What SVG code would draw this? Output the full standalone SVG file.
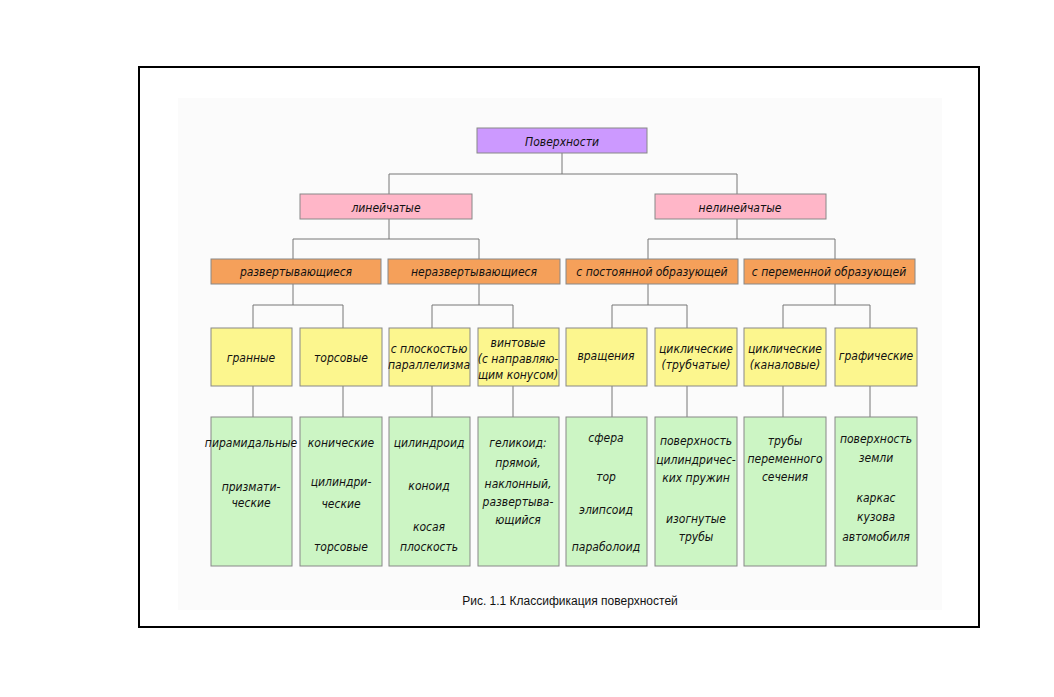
<svg xmlns="http://www.w3.org/2000/svg" width="1054" height="697" viewBox="0 0 1054 697">
<style>
.b{stroke:#888;stroke-width:1}
.p{fill:#cc99ff}.k{fill:#ffb6c8}.o{fill:#f5a05a}.y{fill:#fcf68e}.g{fill:#ccf5c4}
text{font-family:"DejaVu Sans Condensed","Liberation Sans",sans-serif;font-style:italic;font-size:12px;text-anchor:middle;fill:#111}
.c{fill:none;stroke:#777;stroke-width:1}
</style>
<rect width="1054" height="697" fill="#fff"/>
<rect x="178" y="98" width="764" height="512" fill="#fbfbfb"/>
<rect x="139" y="67" width="840" height="560" fill="none" stroke="#000" stroke-width="2"/>
<g id="connectors" class="c">
<path d="M562 153V174M389 174H737M389 174V194M737 174V194"/>
<path d="M389 219V239M293 239H479M293 239V259M479 239V259"/>
<path d="M737 219V239M648 239H835M648 239V259M835 239V259"/>
<path d="M293 284V305M253 305H343M253 305V328M343 305V328"/>
<path d="M479 284V305M432 305H513M432 305V328M513 305V328"/>
<path d="M648 284V305M612 305H687M612 305V328M687 305V328"/>
<path d="M835 284V305M783 305H870M783 305V328M870 305V328"/>
<path d="M253 386V417M343 386V417M432 386V417M513 386V417M612 386V417M687 386V417M783 386V417M870 386V417"/>
</g>
<g id="root"><rect class="b p" x="477" y="128" width="170" height="25"/><text x="562" y="146" font-size="14">Поверхности</text></g>
<g id="lin"><rect class="b k" x="300" y="194" width="172" height="25"/><text x="386" y="212" font-size="14">линейчатые</text></g>
<g id="nelin"><rect class="b k" x="655" y="194" width="171" height="25"/><text x="740" y="212" font-size="14">нелинейчатые</text></g>
<g id="razv"><rect class="b o" x="211" y="259" width="170" height="25"/><text x="296" y="276">развертывающиеся</text></g>
<g id="nerazv"><rect class="b o" x="388" y="259" width="172" height="25"/><text x="474" y="276">неразвертывающиеся</text></g>
<g id="post"><rect class="b o" x="566" y="259" width="172" height="25"/><text x="652" y="276">с постоянной образующей</text></g>
<g id="per"><rect class="b o" x="744" y="259" width="171" height="25"/><text x="829" y="276">с переменной образующей</text></g>
<g id="gran"><rect class="b y" x="211" y="328" width="81" height="58"/><text x="251" y="362" font-size="14">гранные</text></g>
<g id="tors"><rect class="b y" x="300" y="328" width="82" height="58"/><text x="341" y="362" font-size="14">торсовые</text></g>
<g id="plosk"><rect class="b y" x="389" y="328" width="81" height="58"/><text x="429" y="353">с плоскостью</text><text x="429" y="369">параллелизма</text></g>
<g id="vint"><rect class="b y" x="478" y="328" width="81" height="58"/><text x="518" y="347">винтовые</text><text x="518" y="363">(с направляю-</text><text x="518" y="379">щим конусом)</text></g>
<g id="vrash"><rect class="b y" x="566" y="328" width="81" height="58"/><text x="606" y="360" font-size="14">вращения</text></g>
<g id="cikl1"><rect class="b y" x="655" y="328" width="82" height="58"/><text x="696" y="353">циклические</text><text x="696" y="369">(трубчатые)</text></g>
<g id="cikl2"><rect class="b y" x="744" y="328" width="82" height="58"/><text x="785" y="353">циклические</text><text x="785" y="369">(каналовые)</text></g>
<g id="graf"><rect class="b y" x="835" y="328" width="82" height="58"/><text x="876" y="360">графические</text></g>
<g id="l1"><rect class="b g" x="211" y="417" width="81" height="149"/><text x="251" y="447">пирамидальные</text><text x="251" y="491">призмати-</text><text x="251" y="507">ческие</text></g>
<g id="l2"><rect class="b g" x="300" y="417" width="82" height="149"/><text x="341" y="447">конические</text><text x="341" y="486">цилиндри-</text><text x="341" y="508">ческие</text><text x="341" y="551">торсовые</text></g>
<g id="l3"><rect class="b g" x="389" y="417" width="81" height="149"/><text x="429" y="447">цилиндроид</text><text x="429" y="490">коноид</text><text x="429" y="531">косая</text><text x="429" y="551">плоскость</text></g>
<g id="l4"><rect class="b g" x="478" y="417" width="81" height="149"/><text x="518" y="447">геликоид:</text><text x="518" y="467">прямой,</text><text x="518" y="488">наклонный,</text><text x="518" y="506">развертыва-</text><text x="518" y="524">ющийся</text></g>
<g id="l5"><rect class="b g" x="566" y="417" width="81" height="149"/><text x="606" y="442">сфера</text><text x="606" y="481">тор</text><text x="606" y="514">элипсоид</text><text x="606" y="551">параболоид</text></g>
<g id="l6"><rect class="b g" x="655" y="417" width="82" height="149"/><text x="696" y="445">поверхность</text><text x="696" y="464">цилиндричес-</text><text x="696" y="482">ких пружин</text><text x="696" y="523">изогнутые</text><text x="696" y="541">трубы</text></g>
<g id="l7"><rect class="b g" x="744" y="417" width="82" height="149"/><text x="785" y="445">трубы</text><text x="785" y="463">переменного</text><text x="785" y="481">сечения</text></g>
<g id="l8"><rect class="b g" x="835" y="417" width="82" height="149"/><text x="876" y="443">поверхность</text><text x="876" y="462">земли</text><text x="876" y="502">каркас</text><text x="876" y="521">кузова</text><text x="876" y="541">автомобиля</text></g>
<text x="570" y="605" style="font-style:normal;font-family:'Liberation Sans Narrow','Liberation Sans',sans-serif" font-size="14">Рис. 1.1 Классификация поверхностей</text>
</svg>
